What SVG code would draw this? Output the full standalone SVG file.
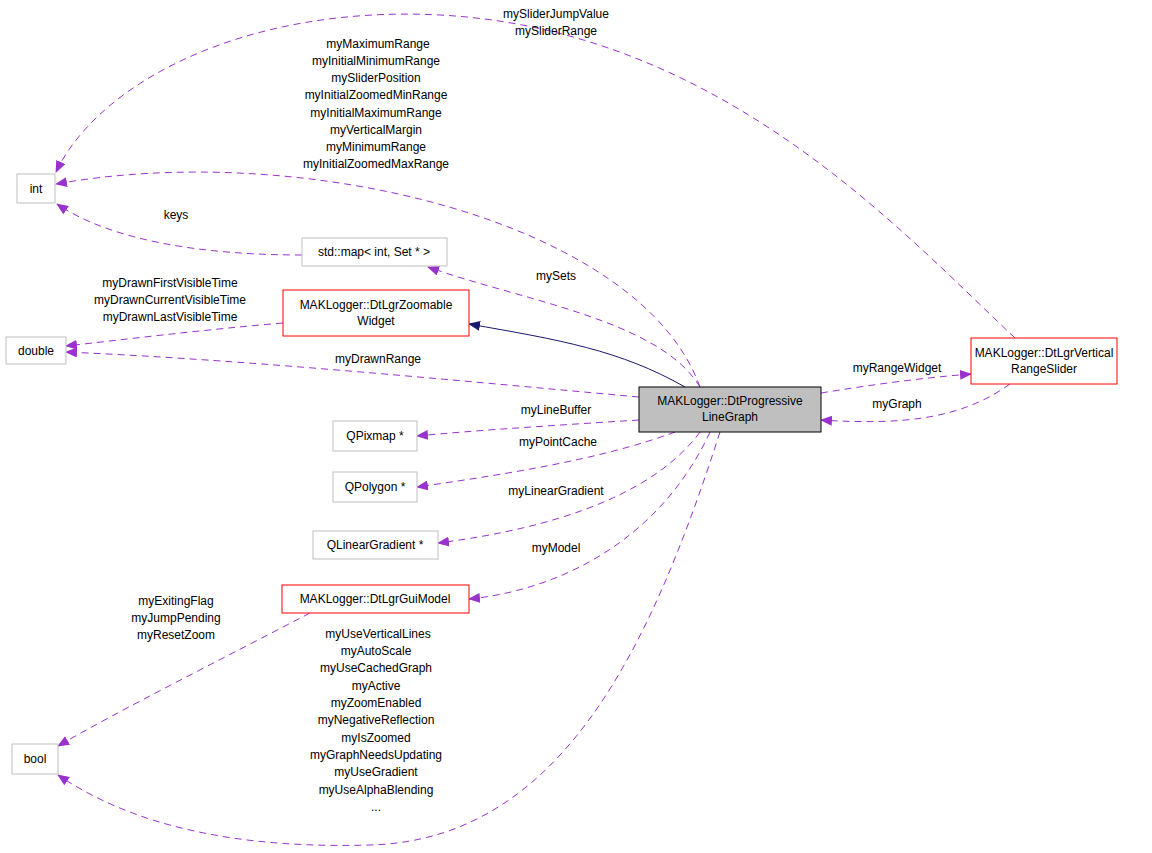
<svg xmlns="http://www.w3.org/2000/svg" width="1152" height="853" viewBox="0 0 1152 853">
<style>
text{font-family:"Liberation Sans",Arial,sans-serif;font-size:12px;text-anchor:middle;fill:#000}
.g{fill:#fff;stroke:#bfbfbf}
.r{fill:#fff;stroke:#ff0000}
.m{fill:#bfbfbf;stroke:#000}
.e{fill:none;stroke:#9a32cd;stroke-dasharray:7,5}
.i{fill:none;stroke:#191970}
</style>
<defs>
<marker id="a" markerWidth="12" markerHeight="10" refX="11" refY="5" orient="auto" markerUnits="userSpaceOnUse"><path d="M0,0L12,5L0,10z" fill="#9a32cd"/></marker>
<marker id="b" markerWidth="12" markerHeight="10" refX="11" refY="5" orient="auto" markerUnits="userSpaceOnUse"><path d="M0,0L12,5L0,10z" fill="#191970"/></marker>
</defs>
<g id="edges">
<path class="e" marker-end="url(#a)" d="M1015,338C900,230 720,30 440,15C250,5 100,80 56,172"/>
<path class="e" marker-end="url(#a)" d="M700,387C640,220 300,140 56,184"/>
<path class="e" marker-end="url(#a)" d="M302,255C200,255 110,240 57,204"/>
<path class="e" marker-end="url(#a)" d="M700,387C660,320 520,300 428,267"/>
<path class="i" marker-end="url(#b)" d="M685,387C620,350 560,340 469,324"/>
<path class="e" marker-end="url(#a)" d="M283,323C200,330 120,340 66,346"/>
<path class="e" marker-end="url(#a)" d="M639,397C450,380 250,360 66,352"/>
<path class="e" marker-end="url(#a)" d="M821,393C870,385 920,378 971,374"/>
<path class="e" marker-end="url(#a)" d="M1010,384C960,420 900,425 821,420"/>
<path class="e" marker-end="url(#a)" d="M639,420C560,425 480,430 417,436"/>
<path class="e" marker-end="url(#a)" d="M675,432C600,460 500,475 417,487"/>
<path class="e" marker-end="url(#a)" d="M700,432C650,500 540,530 438,543"/>
<path class="e" marker-end="url(#a)" d="M710,432C660,540 560,590 469,599"/>
<path class="e" marker-end="url(#a)" d="M310,613C220,660 120,710 58,746"/>
<path class="e" marker-end="url(#a)" d="M720,432C650,650 560,840 370,845C200,850 110,810 58,775"/>
</g>
<g id="labels">
<text x="556" y="18">mySliderJumpValue</text>
<text x="556" y="35">mySliderRange</text>
<text x="378" y="48">myMaximumRange</text>
<text x="376" y="65">myInitialMinimumRange</text>
<text x="376" y="82">mySliderPosition</text>
<text x="376" y="99">myInitialZoomedMinRange</text>
<text x="376" y="117">myInitialMaximumRange</text>
<text x="376" y="134">myVerticalMargin</text>
<text x="376" y="151">myMinimumRange</text>
<text x="376" y="168">myInitialZoomedMaxRange</text>
<text x="176" y="219">keys</text>
<text x="556" y="280">mySets</text>
<text x="170" y="287">myDrawnFirstVisibleTime</text>
<text x="170" y="304">myDrawnCurrentVisibleTime</text>
<text x="170" y="321">myDrawnLastVisibleTime</text>
<text x="378" y="363">myDrawnRange</text>
<text x="897" y="372">myRangeWidget</text>
<text x="897" y="408">myGraph</text>
<text x="556" y="414">myLineBuffer</text>
<text x="558" y="446">myPointCache</text>
<text x="556" y="495">myLinearGradient</text>
<text x="556" y="552">myModel</text>
<text x="176" y="605">myExitingFlag</text>
<text x="176" y="622">myJumpPending</text>
<text x="176" y="639">myResetZoom</text>
<text x="378" y="638">myUseVerticalLines</text>
<text x="376" y="655">myAutoScale</text>
<text x="376" y="672">myUseCachedGraph</text>
<text x="376" y="690">myActive</text>
<text x="376" y="707">myZoomEnabled</text>
<text x="376" y="724">myNegativeReflection</text>
<text x="376" y="742">myIsZoomed</text>
<text x="376" y="759">myGraphNeedsUpdating</text>
<text x="376" y="776">myUseGradient</text>
<text x="376" y="794">myUseAlphaBlending</text>
<text x="376" y="811">...</text>
</g>
<g id="n_int"><rect class="g" x="17" y="174" width="38" height="29"/><text x="36" y="193">int</text></g>
<g id="n_map"><rect class="g" x="302" y="238" width="145" height="28"/><text x="374" y="256">std::map&lt; int, Set * &gt;</text></g>
<g id="n_zoom"><rect class="r" x="283" y="290" width="186" height="46"/><text x="376" y="309">MAKLogger::DtLgrZoomable</text><text x="376" y="325">Widget</text></g>
<g id="n_double"><rect class="g" x="6" y="337" width="60" height="27"/><text x="36" y="355">double</text></g>
<g id="n_main"><rect class="m" x="639" y="387" width="182" height="45"/><text x="730" y="405">MAKLogger::DtProgressive</text><text x="730" y="421">LineGraph</text></g>
<g id="n_slider"><rect class="r" x="971" y="338" width="146" height="46"/><text x="1044" y="357">MAKLogger::DtLgrVertical</text><text x="1044" y="373">RangeSlider</text></g>
<g id="n_pixmap"><rect class="g" x="333" y="421" width="84" height="30"/><text x="375" y="440">QPixmap *</text></g>
<g id="n_polygon"><rect class="g" x="333" y="472" width="84" height="30"/><text x="375" y="491">QPolygon *</text></g>
<g id="n_grad"><rect class="g" x="313" y="531" width="125" height="28"/><text x="375" y="549">QLinearGradient *</text></g>
<g id="n_model"><rect class="r" x="282" y="585" width="187" height="28"/><text x="375" y="603">MAKLogger::DtLgrGuiModel</text></g>
<g id="n_bool"><rect class="g" x="12" y="744" width="46" height="30"/><text x="35" y="763">bool</text></g>
</svg>
